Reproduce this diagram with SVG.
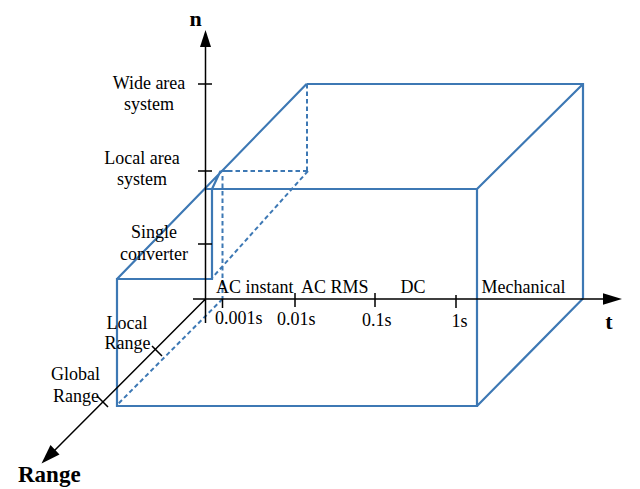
<svg xmlns="http://www.w3.org/2000/svg" width="640" height="489" viewBox="0 0 640 489">
<style>
.ax{stroke:#000;stroke-width:1.5;fill:none}
.bx{stroke:#3d78b4;stroke-width:2.2;fill:none;stroke-linejoin:miter}
.dh{stroke:#3d78b4;stroke-width:2;fill:none;stroke-dasharray:4.5 3}
.t{font-family:"Liberation Serif","Times New Roman",serif;font-size:18px;fill:#000}
.m{text-anchor:middle}
.b{font-family:"Liberation Serif","Times New Roman",serif;font-weight:bold;font-size:22px;fill:#000}
</style>
<rect width="640" height="489" fill="#fff"/>
<g id="box">
<path class="bx" d="M306.5,84 H583 V298.5 M583,84 L477,189 M583,298.5 L477,406 M477,189 V406 H117 V279 H212 V189 M204,189 H477 M117,279 L306.5,84 M220.5,171 L212,189 M220.5,171 H228"/>
<path class="dh" d="M228,171 H308 M307,84 V171 M308,171 L212,278 M222.5,176 V299 M222.5,299 L118,404"/>
</g>
<g id="axes">
<path class="ax" d="M205.5,46 V323 M193,299 H604 M205.5,299 L52,453"/>
<polygon points="205.5,30 200,47 211,47" fill="#000"/>
<polygon points="622,299 603,293.3 603,304.7" fill="#000"/>
<polygon points="41.5,463.5 50.5,445 59.5,454.5" fill="#000"/>
<path class="ax" d="M198,84 H212 M198,171 H212 M198,244 H212 M222.5,299 V308 M295,293 V307 M375,293 V307 M456,295 V308 M152,346 L162,356 M97,396 L108,407"/>
</g>
<g id="labels">
<text class="b m" x="195.5" y="26">n</text>
<text class="b m" x="609" y="328.5">t</text>
<text class="b" x="18" y="482" style="font-size:23px">Range</text>
<text class="t m" x="149" y="88.5">Wide area</text>
<text class="t m" x="149" y="109.5">system</text>
<text class="t m" x="142" y="163.5">Local area</text>
<text class="t m" x="142" y="185">system</text>
<text class="t m" x="154" y="238">Single</text>
<text class="t m" x="154" y="260">converter</text>
<text class="t m" x="127" y="328.5">Local</text>
<text class="t m" x="127.5" y="348.5">Range</text>
<text class="t m" x="75.5" y="380">Global</text>
<text class="t m" x="76" y="401.5">Range</text>
<text class="t" x="216" y="292.5">AC instant</text>
<text class="t" x="301" y="292.5">AC RMS</text>
<text class="t" x="400.5" y="293">DC</text>
<text class="t" x="481.5" y="293">Mechanical</text>
<text class="t" x="215" y="323.5">0.001s</text>
<text class="t" x="277" y="325">0.01s</text>
<text class="t" x="362" y="325.5">0.1s</text>
<text class="t" x="451.5" y="327">1s</text>
</g>
</svg>
